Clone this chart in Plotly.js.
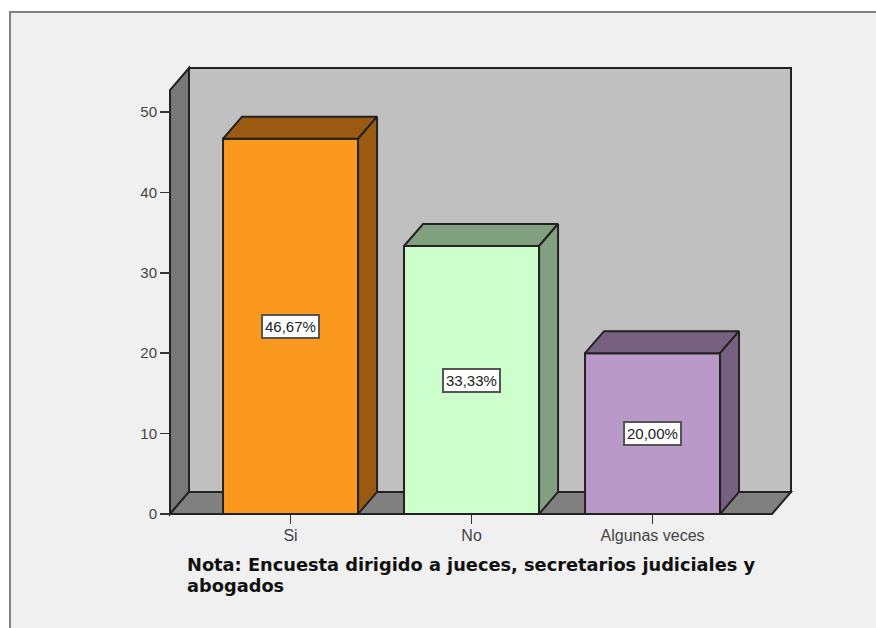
<!DOCTYPE html>
<html><head><meta charset="utf-8">
<script src="https://cdn.plot.ly/plotly-3.0.1.min.js"></script>
<style>
html,body{margin:0;padding:0;background:#fff;width:876px;height:628px;overflow:hidden}
#frame{position:absolute;left:9px;top:11px;width:867px;height:617px;box-sizing:border-box;background:#f0f0f0;border-left:2px solid #808080;border-top:2px solid #808080}
#chart{position:absolute;left:0;top:0;width:876px;height:628px}
</style></head><body>
<div id="frame"></div><div id="chart"></div>
<script>
const categories = ["Si", "No", "Algunas veces"];
const counts = [46.67, 33.33, 20.0];
const percentLabels = ["46,67%", "33,33%", "20,00%"];
const frontColors = ["#FB991E", "#CCFFCC", "#B899C8"];
const shadeColors = ["#9A5A12", "#80A080", "#776080"];
const yTicks = [0, 10, 20, 30, 40, 50];
const noteLines = ["Nota: Encuesta dirigido a jueces, secretarios judiciales y", "abogados"];

const barWidth = 0.746, depthX = 0.105, depthY = 2.74;
const xMin = -0.666, xMax = 2.765, yMax = 55.47;
const padX = 4 / 181, padY = 4 / 8.04;
const edge = "#222222";
const xs = categories.map((_, i) => i);

const traces = [{
  type: "bar", x: xs, y: counts, width: barWidth,
  marker: {color: frontColors, line: {color: edge, width: 2}},
  hoverinfo: "skip", showlegend: false
}];
xs.forEach(i => {
  const l = i - barWidth / 2, r = i + barWidth / 2, v = counts[i];
  traces.push({
    type: "scatter", mode: "lines", fill: "toself", fillcolor: shadeColors[i],
    x: [l, r, r + depthX, l + depthX, l], y: [v, v, v + depthY, v + depthY, v],
    line: {color: edge, width: 2}, hoverinfo: "skip", showlegend: false
  });
  traces.push({
    type: "scatter", mode: "lines", fill: "toself", fillcolor: shadeColors[i],
    x: [r, r + depthX, r + depthX, r, r], y: [0, depthY, v + depthY, v, 0],
    line: {color: edge, width: 2}, hoverinfo: "skip", showlegend: false
  });
});

const frontRight = xMax - depthX, frontTop = yMax - depthY;
const poly = pts => "M" + pts.map(p => p.join(",")).join("L") + "Z";
const face = (pts, fill) => ({
  type: "path", xref: "x", yref: "y", layer: "below", path: poly(pts),
  fillcolor: fill, line: {color: edge, width: 2}
});
const shapes = [
  face([[xMin + depthX, depthY], [xMax, depthY], [xMax, yMax], [xMin + depthX, yMax]], "#C0C0C0"),
  face([[xMin, 0], [xMin + depthX, depthY], [xMin + depthX, yMax], [xMin, frontTop]], "#787878"),
  face([[xMin, 0], [frontRight, 0], [xMax, depthY], [xMin + depthX, depthY]], "#808080")
];

const annotations = xs.map(i => ({
  x: i, y: counts[i] / 2, xref: "x", yref: "y", text: percentLabels[i], showarrow: false,
  bgcolor: "#ffffff", bordercolor: "#555555", borderwidth: 2, borderpad: 2,
  font: {family: "Liberation Sans, Arial, sans-serif", size: 15, color: "#222222"}
}));
noteLines.forEach((line, i) => annotations.push({
  xref: "paper", yref: "paper", x: 0.0302, y: 0, yshift: -46 - 21 * i, xanchor: "left", yanchor: "middle", align: "left",
  showarrow: false, text: line,
  font: {family: "DejaVu Sans, Verdana, sans-serif", size: 17.8, color: "#111111", weight: 700}
}));

const layout = {
  width: 876, height: 628, margin: {l: 166, r: 81, t: 64, b: 110, pad: 0},
  paper_bgcolor: "rgba(0,0,0,0)", plot_bgcolor: "rgba(0,0,0,0)",
  showlegend: false, shapes, annotations, bargap: 0,
  xaxis: {
    range: [xMin - padX, xMax + padX], tickmode: "array", tickvals: xs, ticktext: categories,
    anchor: "free", position: 4 / 454,
    showgrid: false, zeroline: false, showline: false, ticks: "outside", ticklen: 9, tickwidth: 1.5, tickcolor: "#333333",
    ticklabelstandoff: -2,
    tickfont: {family: "Liberation Sans, Arial, sans-serif", size: 16, color: "#444444"}, fixedrange: true
  },
  yaxis: {
    range: [-padY, yMax + padY], tickmode: "array", tickvals: yTicks, ticktext: yTicks.map(String),
    anchor: "free", position: 4 / 629,
    showgrid: false, zeroline: false, showline: false, ticks: "outside", ticklen: 10, tickwidth: 1.5, tickcolor: "#333333",
    tickfont: {family: "Liberation Sans, Arial, sans-serif", size: 15, color: "#444444"}, fixedrange: true
  }
};
Plotly.newPlot("chart", traces, layout, {displayModeBar: false, staticPlot: true});
</script></body></html>
